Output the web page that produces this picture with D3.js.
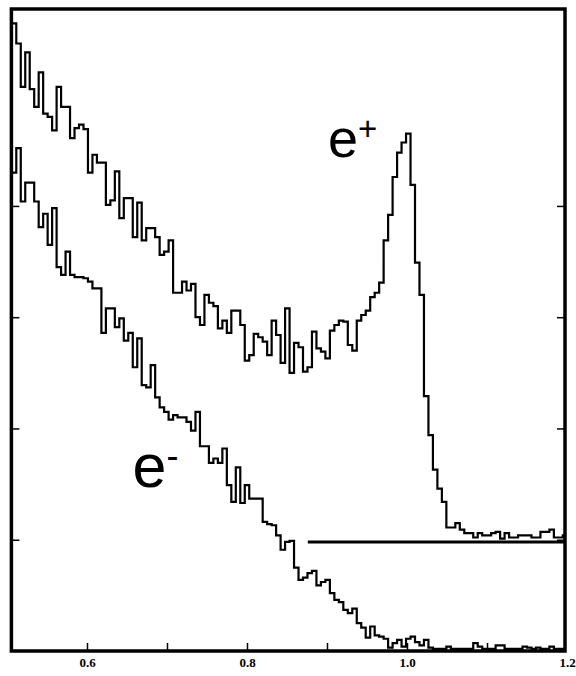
<!DOCTYPE html>
<html>
<head>
<meta charset="utf-8">
<script src="https://cdn.jsdelivr.net/npm/d3@7"></script>
<style>
  html, body { margin: 0; padding: 0; background: #fff; }
  svg { display: block; }
</style>
</head>
<body>
<svg id="chart" width="576" height="676"></svg>
<script>
// ---------------- data ----------------
const binStart = 0.506;      // lower edge of first bin
const binWidth = 0.0056;     // bin width
// e+ counts per bin (drawn shifted up by plusOffset)
const ePlus = [466,448,409,440,407,391,422,385,382,370,409,391,391,363,372,375,371,332,348,341,
  341,303,307,333,291,309,309,274,305,271,282,282,274,258,261,271,224,224,234,226,
  232,202,195,222,215,212,192,199,188,208,208,195,163,168,187,184,180,168,199,186,
  161,210,152,179,175,153,157,189,174,171,165,190,195,199,198,177,172,199,204,208,
  220,224,233,271,294,328,350,359,367,321,251,222,131,96,65,48,36,13,13,17,
  11,8,8,4,8,6,6,8,9,3,8,4,4,6,6,6,4,4,9,9,
  11,4,4,6];
// e- counts per bin
const eMinus = [430,452,404,421,421,404,381,393,365,398,345,338,359,338,336,336,335,332,326,326,
  286,308,308,291,299,279,286,255,281,239,237,257,228,219,215,208,212,210,210,206,
  198,215,184,184,169,173,169,182,149,134,165,133,149,137,137,137,116,114,113,104,
  91,98,99,75,64,66,70,72,59,62,64,52,46,44,37,34,38,25,21,12,
  22,14,13,11,3,7,10,4,11,13,8,5,10,3,2,2,2,4,2,2,
  2,2,2,7,4,2,2,2,5,5,2,2,2,2,4,3,2,3,2,2,
  4,2,2,2];
const plusOffset = 98;          // vertical offset of the e+ histogram
const baselineStart = 0.876;    // where the e+ zero line starts
const yTicks = [100, 200, 300, 400];
const xTicks = [0.6, 0.7, 0.8, 0.9, 1.0, 1.1];
const xTickLabels = [0.6, 0.8, 1.0, 1.2];
const xDomain = [0.5055, 1.1975];
const yDomain = [0, 577];

// ---------------- scales ----------------
const svg = d3.select("#chart");
const x = d3.scaleLinear().domain([0.5, 1.2]).range([7, 567]);
const y = d3.scaleLinear().domain(yDomain).range([651, 9]);
const X0 = x(xDomain[0]), X1 = x(xDomain[1]);
const Y0 = y(yDomain[0]), Y1 = y(yDomain[1]);

svg.append("defs").append("clipPath").attr("id", "clip")
  .append("rect").attr("x", X0).attr("y", Y1).attr("width", X1 - X0).attr("height", Y0 - Y1);

// step histograms
function stepPoints(vals, off) {
  const pts = vals.map((v, i) => [binStart + i * binWidth, v + off]);
  pts.push([binStart + vals.length * binWidth, vals[vals.length - 1] + off]);
  return pts;
}
const line = d3.line().x(d => x(d[0])).y(d => y(d[1])).curve(d3.curveStepAfter);

const g = svg.append("g").attr("clip-path", "url(#clip)");
g.append("path").datum(stepPoints(eMinus, 0))
  .attr("d", line).attr("fill", "none").attr("stroke", "#000").attr("stroke-width", 2.2);
g.append("path").datum(stepPoints(ePlus, plusOffset))
  .attr("d", line).attr("fill", "none").attr("stroke", "#000").attr("stroke-width", 2.2);

// e+ zero line
svg.append("line")
  .attr("x1", x(baselineStart)).attr("x2", X1)
  .attr("y1", y(plusOffset)).attr("y2", y(plusOffset))
  .attr("stroke", "#000").attr("stroke-width", 3);

// ticks
const bottomTicks = svg.append("g").attr("transform", `translate(0,${Y0})`)
  .call(d3.axisTop(x).tickValues(xTicks).tickSize(8).tickFormat(""));
const bottomLabels = svg.append("g").attr("transform", `translate(0,${Y0})`)
  .call(d3.axisBottom(x).tickValues(xTickLabels).tickSize(0).tickPadding(7)
    .tickFormat(d3.format(".1f")));
const leftTicks = svg.append("g").attr("transform", `translate(${X0},0)`)
  .call(d3.axisRight(y).tickValues(yTicks).tickSize(8).tickFormat(""));
const rightTicks = svg.append("g").attr("transform", `translate(${X1},0)`)
  .call(d3.axisLeft(y).tickValues(yTicks).tickSize(8).tickFormat(""));
[bottomTicks, bottomLabels, leftTicks, rightTicks].forEach(a => {
  a.select(".domain").remove();
  a.selectAll(".tick line").attr("stroke", "#000").attr("stroke-width", 1.5);
});
bottomLabels.selectAll(".tick text")
  .attr("font-family", "'Liberation Serif', 'DejaVu Serif', serif")
  .attr("font-weight", "bold").attr("font-size", 13).attr("fill", "#000");

// frame
svg.append("rect").attr("x", X0).attr("y", Y1).attr("width", X1 - X0).attr("height", Y0 - Y1)
  .attr("fill", "none").attr("stroke", "#000").attr("stroke-width", 3.5);

// particle labels
const tp = svg.append("text").attr("x", 328).attr("y", 157)
  .attr("font-family", "'Liberation Sans', Arial, sans-serif").attr("fill", "#000");
tp.append("tspan").attr("font-size", 54).text("e");
tp.append("tspan").attr("font-size", 33).attr("dy", -17).text("+");

const tm = svg.append("text").attr("x", 132.5).attr("y", 487)
  .attr("font-family", "'Liberation Sans', Arial, sans-serif").attr("fill", "#000");
tm.append("tspan").attr("font-size", 61).text("e");
tm.append("tspan").attr("font-size", 36).attr("dy", -19).text("-");
</script>
</body>
</html>
